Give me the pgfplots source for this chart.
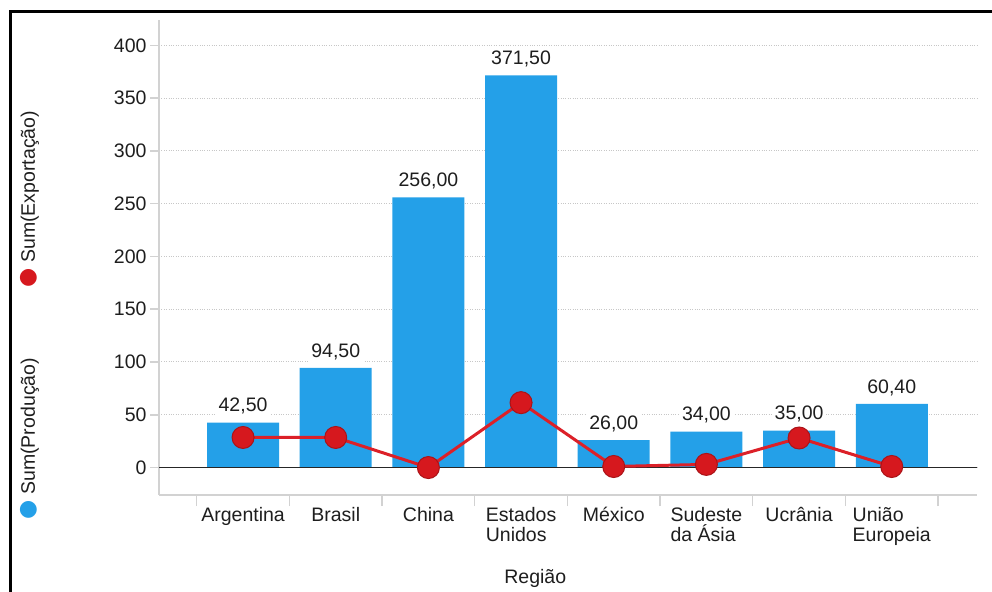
\documentclass[border=0pt]{standalone}
\usepackage{pgfplots}
\pgfplotsset{compat=1.18}
\usepackage{pgfplotstable}
\usepackage{fontspec}
\setmainfont{Liberation Sans}
\newfontfamily\symfont{DejaVu Sans}
\definecolor{barblue}{RGB}{36,160,232}
\definecolor{mkred}{RGB}{214,24,30}
\definecolor{lnred}{RGB}{220,32,40}
\definecolor{axgray}{RGB}{210,210,210}
\definecolor{txt}{RGB}{30,30,30}

\pgfplotstableread{
x y lab
0 42.5 42,50
1 94.5 94,50
2 256 256,00
3 371.5 371,50
4 26 26,00
5 34 34,00
6 35 35,00
7 60.4 60,40
}\prodtable

\pgfplotstableread{
x y
0 28.5
1 28.5
2 0
3 61.5
4 1
5 3
6 28
7 1
}\exptable

\begin{document}
\begin{tikzpicture}[font=\fontsize{19.5bp}{20bp}\selectfont]
\useasboundingbox (0,0) rectangle (992bp,592bp);
\fill[white] (0,0) rectangle (992bp,592bp);
\draw[black, line width=3bp] (10.5bp,0) -- (10.5bp,580.7bp) -- (992bp,580.7bp);
\begin{axis}[
  at={(159bp,97bp)}, anchor=south west,
  width=818bp, height=475bp, scale only axis,
  xmin=-0.907, xmax=7.92, ymin=-26, ymax=424,
  axis x line*=bottom, axis y line*=left,
  axis line style={axgray, line width=1.5bp, -},
  /pgf/number format/assume math mode=true,
  ytick={0,50,...,400},
  yticklabel style={text=txt},
  ymajorgrids, major grid style={dotted, black!22, line width=1bp},
  tick align=outside, major tick length=9bp,
  ytick style={draw=axgray, line width=1.5bp},
  xtick={0,...,7},
  xticklabels={Argentina, Brasil, China, Estados\\Unidos, México, Sudeste\\da Ásia, Ucrânia, União\\Europeia},
  xticklabel style={align=left, anchor=north, text=txt},
  xtick style={draw=none},
  extra x ticks={-0.5,0.5,...,7.5},
  extra x tick labels={},
  extra x tick style={xtick style={draw=axgray, line width=1.5bp}, major tick length=11bp},
  xlabel={Região},
  xlabel style={at={(axis description cs:0.46,0)}, anchor=center, yshift=-83bp, text=txt},
  clip=false,
]
\addplot[ybar, bar width=72bp, fill=barblue, draw=none,
  nodes near coords, point meta=explicit symbolic,
  nodes near coords style={fill=white, inner sep=3bp, yshift=5bp, text=txt}]
  table[x=x, y=y, meta=lab]{\prodtable};
\addplot[black!85, line width=1.8bp] coordinates {(-0.907,0) (7.92,0)};
\addplot[lnred, line width=3bp, mark=*, mark size=11bp,
  mark options={fill=mkred, draw=mkred!80!black, line width=1bp}]
  table[x=x, y=y]{\exptable};
\end{axis}
\node[rotate=90, anchor=west, inner sep=0, text=txt] at (30bp,72bp)
  {{\symfont\fontsize{22bp}{22bp}\selectfont\color{barblue}●}\hspace{6bp}Sum(Produção)};
\node[rotate=90, anchor=west, inner sep=0, text=txt] at (30bp,304bp)
  {{\symfont\fontsize{22bp}{22bp}\selectfont\color{mkred}●}\hspace{6bp}Sum(Exportação)};
\end{tikzpicture}
\end{document}
